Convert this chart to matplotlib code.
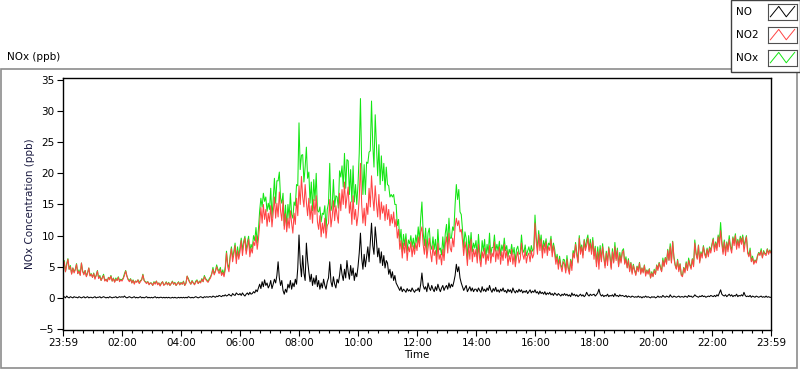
import numpy as np
import matplotlib.pyplot as plt
from matplotlib.patches import Rectangle

# ---- data: 2.5-minute readings, minute 0 = 23:59 of previous day ----
# NO2 (ppb), 24 values per hour
no2_ppb = (
    [4.4, 5.8, 4.2, 5.2, 6.2, 4.6, 5.0, 3.8, 4.8, 4.0, 4.5, 5.4, 3.9, 4.3, 3.6, 5.6, 4.2, 3.7, 4.4, 3.4, 3.9, 4.8, 3.5, 3.8] +
    [3.3, 3.9, 3.0, 3.6, 4.3, 3.1, 3.4, 2.8, 3.2, 3.6, 2.7, 3.0, 2.6, 3.3, 2.9, 3.5, 2.7, 3.1, 2.5, 3.0, 2.8, 3.3, 2.6, 2.9] +
    [2.7, 3.1, 3.6, 4.3, 3.5, 2.9, 2.6, 3.0, 2.4, 2.8, 2.2, 2.7, 2.5, 2.9, 2.3, 2.6, 2.9, 3.7, 2.8, 2.5, 2.3, 2.6, 2.1, 2.4] +
    [2.3, 2.0, 2.5, 2.2, 2.7, 2.1, 2.4, 1.9, 2.3, 2.6, 2.0, 2.2, 2.5, 2.1, 2.4, 2.0, 2.3, 2.6, 2.2, 2.4, 2.0, 2.3, 2.5, 2.1] +
    [2.4, 2.2, 2.6, 2.0, 2.3, 3.5, 2.9, 2.5, 2.2, 2.7, 2.4, 2.1, 2.5, 2.8, 2.3, 2.6, 2.4, 3.0, 2.6, 3.4, 3.0, 2.7, 2.5, 2.9] +
    [3.2, 3.8, 4.6, 3.7, 4.2, 5.0, 4.4, 3.9, 4.6, 3.6, 4.1, 3.4, 4.5, 7.2, 5.0, 4.2, 6.4, 7.9, 5.8, 7.0, 8.4, 5.5, 7.6, 6.2] +
    [7.4, 9.2, 6.8, 8.6, 9.6, 7.0, 8.2, 9.4, 6.6, 8.0, 7.2, 9.0, 8.4, 10.0, 7.8, 9.4, 11.8, 14.5, 12.0, 15.0, 12.6, 14.2, 11.5, 13.6] +
    [12.2, 14.8, 11.4, 13.6, 16.2, 12.8, 15.2, 13.0, 17.0, 14.0, 12.4, 15.6, 11.0, 13.5, 10.6, 12.8, 11.2, 14.0, 12.0, 10.4, 13.6, 11.8, 16.0, 13.2] +
    [18.0, 15.0, 19.5, 16.2, 14.6, 18.2, 15.4, 13.2, 16.0, 12.6, 14.8, 12.0, 15.8, 13.4, 16.4, 12.2, 11.0, 13.2, 9.8, 12.0, 10.4, 12.8, 9.6, 11.6] +
    [12.0, 15.8, 11.4, 13.0, 15.6, 12.4, 14.8, 13.2, 12.0, 16.8, 14.0, 17.4, 15.0, 18.6, 14.4, 16.2, 17.8, 13.6, 15.4, 11.8, 16.4, 12.6, 14.2, 11.6] +
    [13.2, 16.0, 21.6, 15.0, 12.0, 14.4, 11.6, 15.2, 13.4, 17.6, 14.6, 19.6, 16.2, 14.0, 18.0, 15.2, 13.0, 16.6, 12.6, 15.4, 13.6, 14.8, 12.4, 15.0] +
    [12.6, 14.2, 11.6, 13.4, 12.0, 13.8, 11.4, 12.6, 9.6, 11.0, 7.8, 9.2, 6.4, 8.8, 7.2, 9.4, 6.0, 8.2, 7.4, 9.0, 6.6, 8.4, 7.0, 8.8] +
    [7.6, 9.8, 8.2, 10.6, 11.4, 8.6, 7.0, 9.4, 6.4, 8.0, 9.6, 7.2, 5.8, 8.4, 6.8, 7.6, 5.4, 8.8, 6.2, 7.0, 5.3, 7.8, 6.0, 8.6] +
    [9.8, 7.2, 10.4, 8.0, 7.4, 9.6, 8.2, 11.4, 12.8, 11.6, 12.4, 10.6, 11.0, 9.2, 6.8, 9.0, 7.6, 5.2, 8.6, 6.2, 9.4, 5.8, 7.8, 6.6] +
    [7.8, 5.6, 8.6, 6.2, 5.0, 7.4, 6.4, 8.0, 5.4, 7.0, 6.0, 8.4, 5.6, 7.2, 6.6, 9.0, 5.8, 7.6, 6.2, 8.2, 5.4, 7.4, 6.0, 8.6] +
    [6.4, 7.6, 5.2, 6.8, 5.8, 7.8, 5.4, 7.0, 5.0, 6.6, 7.4, 5.6, 6.2, 8.8, 7.0, 6.2, 7.6, 5.6, 6.8, 7.2, 5.8, 7.6, 6.4, 7.0] +
    [12.0, 9.0, 7.0, 10.2, 7.6, 9.4, 6.4, 8.6, 7.2, 9.0, 6.8, 8.2, 7.6, 9.4, 6.6, 8.4, 7.0, 5.4, 6.6, 4.6, 6.2, 5.0, 4.2, 5.8] +
    [5.4, 4.0, 6.2, 4.6, 3.8, 6.0, 4.4, 7.2, 6.4, 8.6, 6.8, 5.6, 9.6, 7.0, 8.2, 6.4, 9.2, 7.6, 8.4, 9.6, 7.4, 8.8, 7.0, 9.2] +
    [6.2, 8.0, 5.0, 7.4, 4.6, 7.8, 5.8, 8.2, 6.4, 4.8, 7.2, 5.2, 8.0, 6.4, 4.6, 7.4, 5.6, 8.2, 6.0, 7.6, 5.0, 6.8, 5.6, 7.2] +
    [7.6, 5.4, 6.2, 4.8, 6.0, 4.2, 5.6, 3.8, 5.2, 4.4, 3.6, 5.0, 4.2, 5.6, 3.8, 4.8, 4.0, 5.2, 3.5, 4.4, 3.8, 4.6, 3.2, 4.0] +
    [3.4, 4.4, 3.8, 5.2, 4.4, 5.6, 4.8, 4.2, 6.0, 5.0, 6.4, 5.4, 7.6, 6.0, 8.2, 5.6, 9.0, 6.4, 5.2, 4.6, 6.0, 4.2, 5.4, 3.6] +
    [3.4, 4.8, 4.0, 5.6, 4.4, 6.0, 5.2, 4.6, 6.2, 5.0, 8.8, 7.0, 6.2, 8.4, 5.6, 7.2, 6.4, 8.2, 7.0, 6.4, 7.8, 6.6, 8.0, 7.2] +
    [8.4, 9.4, 7.4, 8.8, 7.6, 9.8, 8.2, 10.8, 8.6, 7.0, 9.0, 6.8, 8.8, 7.4, 9.4, 8.0, 7.2, 9.6, 8.4, 10.0, 7.8, 9.2, 8.0, 9.6] +
    [8.6, 9.8, 7.4, 8.8, 9.8, 7.2, 6.6, 7.6, 5.8, 6.4, 5.4, 6.0, 5.6, 6.6, 7.2, 6.8, 7.6, 6.4, 7.4, 7.0, 6.8, 7.8, 7.0, 7.6] +
    [7.2]
)

# NO (ppb), same time base
no_ppb = (
    [0.1, 0.2, 0.0, 0.3, 0.1, 0.0, 0.2, 0.1, 0.0, 0.2, 0.1, 0.1, 0.0, 0.2, 0.1, 0.0, 0.1, 0.2, 0.0, 0.1, 0.2, 0.0, 0.1, 0.1] +
    [0.0, 0.1, 0.2, 0.0, 0.1, 0.1, 0.2, 0.0, 0.1, 0.2, 0.1, 0.0, 0.1, 0.0, 0.2, 0.1, 0.0, 0.1, 0.1, 0.2, 0.0, 0.1, 0.2, 0.1] +
    [0.2, 0.1, 0.3, 0.1, 0.0, 0.1, 0.2, 0.1, 0.0, 0.1, 0.2, 0.0, 0.1, 0.0, 0.1, 0.2, 0.0, 0.1, 0.0, 0.1, 0.2, 0.0, 0.1, 0.0] +
    [0.1, 0.0, 0.1, 0.2, 0.0, 0.1, 0.0, 0.1, 0.1, 0.0, 0.1, 0.0, 0.1, 0.0, 0.1, 0.0, 0.0, 0.1, 0.0, 0.1, 0.0, 0.0, 0.1, 0.0] +
    [0.1, 0.0, 0.1, 0.0, 0.1, 0.0, 0.2, 0.1, 0.0, 0.1, 0.0, 0.1, 0.2, 0.1, 0.0, 0.1, 0.2, 0.1, 0.0, 0.2, 0.1, 0.2, 0.1, 0.2] +
    [0.2, 0.1, 0.3, 0.2, 0.1, 0.3, 0.2, 0.4, 0.3, 0.2, 0.4, 0.3, 0.5, 0.3, 0.4, 0.6, 0.4, 0.3, 0.7, 0.5, 0.4, 0.8, 0.6, 0.5] +
    [0.7, 0.4, 0.8, 0.5, 0.3, 0.6, 0.8, 0.5, 0.9, 0.6, 0.7, 1.0, 0.8, 1.3, 1.0, 1.6, 2.2, 1.5, 2.6, 1.8, 2.9, 2.0, 2.4, 1.6] +
    [2.0, 2.8, 1.5, 2.2, 3.0, 2.4, 3.6, 5.8, 3.2, 2.0, 2.8, 1.2, 0.6, 1.4, 0.9, 2.2, 1.6, 2.8, 1.4, 2.4, 1.8, 3.0, 2.2, 4.8] +
    [10.1, 5.6, 3.4, 6.8, 4.0, 2.8, 8.8, 6.0, 4.2, 2.6, 3.8, 2.0, 3.2, 2.2, 3.6, 1.8, 2.8, 1.4, 2.4, 1.6, 3.0, 2.0, 1.4, 2.6] +
    [3.2, 5.8, 2.6, 1.8, 3.4, 2.2, 1.6, 3.0, 2.4, 3.6, 5.4, 3.8, 2.8, 4.6, 3.2, 6.0, 4.2, 3.0, 5.2, 3.6, 4.8, 2.8, 4.0, 3.4] +
    [5.0, 7.2, 10.4, 6.4, 4.6, 7.0, 5.0, 6.6, 8.2, 5.8, 9.0, 12.0, 8.4, 7.0, 11.4, 9.2, 6.6, 8.0, 5.6, 7.4, 5.2, 6.8, 4.8, 6.0] +
    [5.6, 3.8, 4.6, 3.2, 4.2, 2.8, 3.6, 2.4, 2.0, 1.6, 1.2, 1.8, 1.0, 1.4, 1.2, 0.9, 1.5, 1.1, 1.3, 1.0, 1.6, 1.2, 0.9, 1.3] +
    [1.2, 1.6, 1.0, 2.2, 4.0, 2.0, 1.4, 1.8, 1.0, 2.4, 1.6, 1.2, 2.0, 1.4, 1.0, 1.8, 1.2, 2.2, 1.5, 1.0, 1.6, 2.0, 1.2, 1.7] +
    [2.0, 1.4, 2.4, 1.6, 2.2, 1.8, 2.6, 3.6, 5.4, 4.2, 5.0, 3.2, 2.4, 1.8, 1.2, 1.6, 2.0, 1.0, 1.4, 1.8, 1.1, 1.6, 1.0, 1.4] +
    [1.4, 1.0, 1.6, 1.2, 0.9, 1.8, 1.1, 1.4, 1.0, 1.6, 1.2, 2.0, 1.3, 0.9, 1.5, 1.1, 1.7, 1.0, 1.3, 0.9, 1.4, 1.1, 1.6, 1.0] +
    [1.2, 0.8, 1.4, 1.0, 1.3, 0.8, 1.6, 1.1, 0.8, 1.2, 0.9, 1.4, 1.0, 1.3, 0.8, 1.1, 0.9, 1.2, 0.7, 1.0, 1.3, 0.8, 1.1, 0.9] +
    [1.3, 0.8, 1.0, 0.6, 1.1, 0.7, 0.9, 0.6, 1.0, 0.5, 0.8, 0.6, 0.9, 0.5, 0.7, 0.4, 0.8, 0.6, 0.4, 0.7, 0.5, 0.3, 0.6, 0.4] +
    [0.7, 0.4, 0.6, 0.3, 0.5, 0.2, 0.8, 0.4, 0.6, 0.3, 0.5, 0.2, 0.4, 0.6, 0.3, 0.5, 0.2, 0.4, 0.9, 0.5, 0.3, 0.6, 0.4, 0.5] +
    [0.6, 0.3, 0.5, 0.8, 1.4, 0.6, 0.3, 0.5, 0.2, 0.4, 0.3, 0.6, 0.2, 0.4, 0.3, 0.5, 0.2, 0.7, 0.3, 0.4, 0.2, 0.5, 0.3, 0.4] +
    [0.3, 0.2, 0.4, 0.1, 0.3, 0.2, 0.1, 0.3, 0.2, 0.1, 0.2, 0.1, 0.3, 0.1, 0.2, 0.0, 0.2, 0.1, 0.3, 0.1, 0.2, 0.1, 0.0, 0.2] +
    [0.1, 0.2, 0.0, 0.1, 0.3, 0.1, 0.2, 0.1, 0.4, 0.2, 0.1, 0.3, 0.2, 0.1, 0.5, 0.2, 0.1, 0.3, 0.2, 0.1, 0.2, 0.3, 0.1, 0.2] +
    [0.2, 0.1, 0.3, 0.2, 0.1, 0.4, 0.2, 0.3, 0.1, 0.2, 0.5, 0.3, 0.2, 0.1, 0.3, 0.2, 0.4, 0.2, 0.3, 0.1, 0.2, 0.3, 0.2, 0.4] +
    [0.3, 0.2, 0.4, 0.2, 0.5, 0.3, 0.8, 1.3, 0.6, 0.4, 0.3, 0.5, 0.2, 0.4, 0.6, 0.3, 0.5, 0.2, 0.4, 0.3, 0.6, 0.2, 0.4, 0.3] +
    [0.5, 0.3, 0.9, 0.4, 0.2, 0.3, 0.2, 0.4, 0.1, 0.3, 0.2, 0.1, 0.3, 0.2, 0.1, 0.2, 0.3, 0.1, 0.2, 0.1, 0.3, 0.1, 0.2, 0.1] +
    [0.1]
)

tick_minutes = [0, 121, 241, 361, 481, 601, 721, 841, 961, 1081, 1201, 1321, 1440]
tick_labels = ['23:59', '02:00', '04:00', '06:00', '08:00', '10:00', '12:00',
               '14:00', '16:00', '18:00', '20:00', '22:00', '23:59']

minutes = np.arange(len(no2_ppb)) * 2.5
no2 = np.array(no2_ppb)
no = np.array(no_ppb)
nox = no + no2          # NOx is the sum of NO and NO2

C_NO, C_NO2, C_NOX = 'black', '#ff4444', '#14e614'

plt.rcParams.update({'font.family': 'DejaVu Sans', 'font.size': 7.5})

fig = plt.figure(figsize=(8, 3.69), dpi=100)
W, H = 800, 369

# outer gray panel
fig.patches.append(Rectangle((0.5 / W, 1 - 368 / H), 796.5 / W, 299 / H,
                             transform=fig.transFigure, fill=False,
                             ec='#8c8c8c', lw=1.2))

ax = fig.add_axes([63 / W, 1 - 330 / H, 708 / W, 252 / H])
ax.plot(minutes, nox, color=C_NOX, lw=0.75)
ax.plot(minutes, no2, color=C_NO2, lw=0.75)
ax.plot(minutes, no, color=C_NO, lw=0.75)

ax.set_xlim(0, 1440)
ax.set_ylim(-5.15, 35.3)
ax.set_yticks(np.arange(-5, 36, 5))
ax.set_xticks(tick_minutes)
ax.set_xticklabels(tick_labels)
ax.set_xticks([m for m in range(1, 1440, 20) if m % 120 != 1], minor=True)
ax.tick_params(axis='both', direction='out', length=4, width=0.8, pad=2,
               labelsize=7.5, colors='black')
ax.tick_params(axis='x', which='minor', direction='out', length=2.5, width=0.8)
for s in ax.spines.values():
    s.set_linewidth(1.0)
ax.set_xlabel('Time', fontsize=7.5, labelpad=1)
ax.set_ylabel('NOx Concentration (ppb)', fontsize=7.5, labelpad=3,
              color='#1a1a40')

fig.text(7 / W, 1 - 57 / H, 'NOx (ppb)', fontsize=7.5, va='center', ha='left')

# legend panel
fig.patches.append(Rectangle((730.5 / W, 1 - 71.5 / H), 69 / W, 71 / H,
                             transform=fig.transFigure, fill=True,
                             fc='white', ec='#404040', lw=1.0, zorder=1))
for name, col, yc in [('NO', C_NO, 12), ('NO2', C_NO2, 35), ('NOx', C_NOX, 58)]:
    fig.text(736 / W, 1 - yc / H, name, fontsize=7.5, va='center', ha='left',
             zorder=6)
    sw = fig.add_axes([768 / W, 1 - (yc + 8) / H, 29 / W, 16 / H])
    sw.set_zorder(6)
    sw.plot([0.08, 0.37, 0.63, 0.92], [0.2, 0.85, 0.2, 0.85], color=col, lw=0.7)
    sw.set_xlim(0, 1)
    sw.set_ylim(0, 1)
    sw.set_xticks([])
    sw.set_yticks([])
    for s in sw.spines.values():
        s.set_color('#505050')
        s.set_linewidth(0.8)

fig.savefig('out.png', dpi=100)
